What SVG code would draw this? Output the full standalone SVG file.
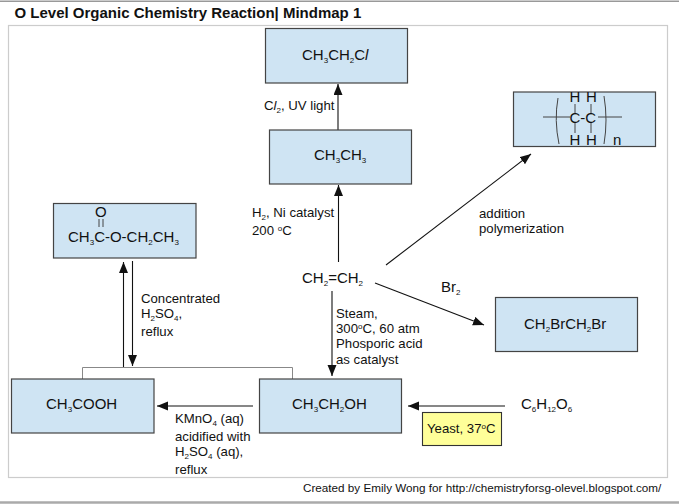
<svg xmlns="http://www.w3.org/2000/svg" width="679" height="504" viewBox="0 0 679 504">
<style>
text{font-family:"Liberation Sans",Arial,sans-serif;fill:#111}
.n{font-size:15px}.l{font-size:13.2px}
.s{font-size:8px}
.b{fill:#cfe4f3;stroke:#444;stroke-width:1.2}
.ca{stroke:#111;stroke-width:1.1;fill:none;marker-end:url(#a)}
.p{stroke:#444;stroke-width:1;fill:none}
</style>
<defs><marker id="a" markerUnits="userSpaceOnUse" markerWidth="12" markerHeight="10" refX="11" refY="4.5" orient="auto"><path d="M0 0L11 4.5L0 9Z" fill="#111"/></marker></defs>
<rect width="679" height="504" fill="#fff"/>
<path d="M0 1.2H679" stroke="#999" stroke-width="1.5"/>
<path d="M0 502.5H679" stroke="#aaa" stroke-width="2.5"/>
<text x="14.500" y="18" font-size="15" font-weight="700" fill="#000">O Level Organic Chemistry Reaction| Mindmap 1</text>
<rect x="8.500" y="25.500" width="659" height="452" fill="#fff" stroke="#ccc" stroke-width="1.2"/>
<g id="connectors">
<path class="p" d="M82.500 379V367.500H292.500V379" style="stroke:#888"/>
<path class="ca" d="M338 130V84"/>
<path class="ca" d="M338.500 262V185"/>
<path class="ca" d="M386 265L531 154"/>
<path class="ca" d="M375 283L484 325"/>
<path class="ca" d="M332 291V376"/>
<path class="ca" d="M123.500 367V262"/>
<path class="ca" d="M132.500 261V366"/>
<path class="ca" d="M253 406H157"/>
<path class="ca" d="M505 406H408"/>
</g>
<g id="n1"><rect class="b" x="265.500" y="28.500" width="142" height="54.500"/><text class="n" x="302" y="60">CH<tspan class="s" dy="3">3</tspan><tspan dy="-3">CH</tspan><tspan class="s" dy="3">2</tspan><tspan dy="-3">C</tspan><tspan font-style="italic">l</tspan></text></g>
<g id="n2"><rect class="b" x="269.500" y="130" width="142" height="54"/><text class="n" x="314" y="160">CH<tspan class="s" dy="3">3</tspan><tspan dy="-3">CH</tspan><tspan class="s" dy="3">3</tspan></text></g>
<g id="n3"><rect class="b" x="53.500" y="203.500" width="142.500" height="54.500"/><text class="n" x="95" y="217">O</text><path class="p" d="M99 219V227M103 219V227"/><text class="n" x="68" y="242">CH<tspan class="s" dy="3">3</tspan><tspan dy="-3">C-O-CH</tspan><tspan class="s" dy="3">2</tspan><tspan dy="-3">CH</tspan><tspan class="s" dy="3">3</tspan></text></g>
<g id="n4"><rect class="b" x="513.500" y="92" width="142" height="54.500"/>
<path class="p" d="M543 117H570M598 117H622M575 104V113M591 104V113M575 122V133M591 122V133"/>
<path class="p" d="M558 98Q554 120 559 144M604 96Q608 120 604 144"/>
<text class="n" x="569.500" y="102">H</text><text class="n" x="586" y="102">H</text><text class="n" x="569.500" y="123">C-C</text><text class="n" x="569.500" y="145">H</text><text class="n" x="586" y="145">H</text><text class="n" x="613" y="145">n</text></g>
<g id="n5"><rect class="b" x="495.500" y="297.500" width="142" height="54"/><text class="n" x="524" y="329">CH<tspan class="s" dy="3">2</tspan><tspan dy="-3">BrCH</tspan><tspan class="s" dy="3">2</tspan><tspan dy="-3">Br</tspan></text></g>
<g id="n6"><rect class="b" x="11.500" y="379" width="142.500" height="54"/><text class="n" x="46" y="409">CH<tspan class="s" dy="3">3</tspan><tspan dy="-3">COOH</tspan></text></g>
<g id="n7"><rect class="b" x="259.500" y="379" width="142" height="54"/><text class="n" x="292" y="409">CH<tspan class="s" dy="3">3</tspan><tspan dy="-3">CH</tspan><tspan class="s" dy="3">2</tspan><tspan dy="-3">OH</tspan></text></g>
<g id="n8"><rect x="422.500" y="412.500" width="79" height="33" fill="#ffff99" stroke="#333" stroke-width="1.1"/><text class="l" x="427" y="433">Yeast, 37<tspan class="s" dy="-4">o</tspan><tspan dy="4">C</tspan></text></g>
<g id="n9"><text class="n" x="302" y="283">CH<tspan class="s" dy="3">2</tspan><tspan dy="-3">=CH</tspan><tspan class="s" dy="3">2</tspan></text></g>
<g id="n10"><text class="n" x="521" y="409">C<tspan class="s" dy="3">6</tspan><tspan dy="-3">H</tspan><tspan class="s" dy="3">12</tspan><tspan dy="-3">O</tspan><tspan class="s" dy="3">6</tspan></text></g>
<g id="labels">
<text class="l" x="264" y="110">C<tspan font-style="italic">l</tspan><tspan class="s" dy="3">2</tspan><tspan dy="-3">, UV light</tspan></text>
<text class="l" x="252" y="217">H<tspan class="s" dy="3">2</tspan><tspan dy="-3">, Ni catalyst</tspan></text>
<text class="l" x="252" y="235">200 <tspan class="s" dy="-4">o</tspan><tspan dy="4">C</tspan></text>
<text class="l" x="479" y="218">addition</text>
<text class="l" x="479" y="233">polymerization</text>
<text class="n" x="441" y="292">Br<tspan class="s" dy="3">2</tspan></text>
<text class="l" x="336" y="318">Steam,</text>
<text class="l" x="336" y="333">300<tspan class="s" dy="-4">o</tspan><tspan dy="4">C, 60 atm</tspan></text>
<text class="l" x="336" y="348">Phosporic acid</text>
<text class="l" x="336" y="364">as catalyst</text>
<text class="l" x="141" y="303">Concentrated</text>
<text class="l" x="141" y="318">H<tspan class="s" dy="3">2</tspan><tspan dy="-3">SO</tspan><tspan class="s" dy="3">4</tspan><tspan dy="-3">,</tspan></text>
<text class="l" x="141" y="336">reflux</text>
<text class="l" x="175" y="423">KMnO<tspan class="s" dy="3">4</tspan><tspan dy="-3"> (aq)</tspan></text>
<text class="l" x="175" y="441">acidified with</text>
<text class="l" x="175" y="456">H<tspan class="s" dy="3">2</tspan><tspan dy="-3">SO</tspan><tspan class="s" dy="3">4</tspan><tspan dy="-3"> (aq),</tspan></text>
<text class="l" x="175" y="474">reflux</text>
<text x="303" y="492" font-size="11.700">Created by Emily Wong for http://chemistryforsg-olevel.blogspot.com/</text>
</g>
</svg>
